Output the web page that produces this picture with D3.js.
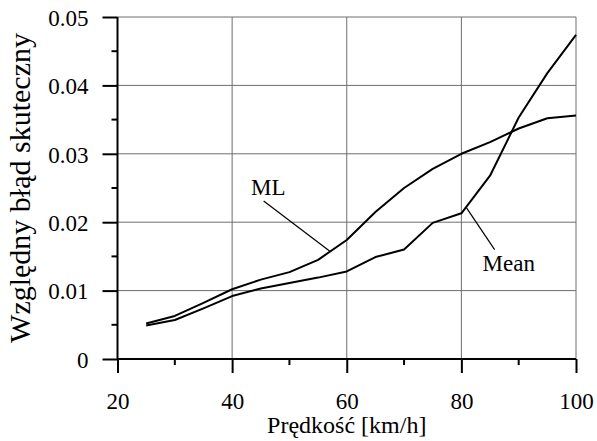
<!DOCTYPE html>
<html>
<head>
<meta charset="utf-8">
<script src="https://cdn.jsdelivr.net/npm/d3@7"></script>
<style>
  html, body { margin: 0; padding: 0; background: #fff; }
  svg { display: block; }
  svg text { font-family: 'Liberation Serif', 'DejaVu Serif', serif; }
</style>
</head>
<body>
<div id="chart"></div>
<script>
// Relative RMS error vs. speed, two estimators (ML / Mean)

const speeds = [25, 30, 35, 40, 45, 50, 55, 60, 65, 70, 75, 80, 85, 90, 95, 100];
const mlValues = [0.0052, 0.0063, 0.0082, 0.0102, 0.0116, 0.0127, 0.0145, 0.0174, 0.0215, 0.0250, 0.0278, 0.0300, 0.0317, 0.0337, 0.0352, 0.0356];
const meanValues = [0.0049, 0.0057, 0.0074, 0.0092, 0.0103, 0.0111, 0.0119, 0.0128, 0.0149, 0.0160, 0.0199, 0.0213, 0.0268, 0.0353, 0.0418, 0.0474];

const xTicks = [20, 40, 60, 80, 100];
const xMinorTicks = [30, 50, 70, 90];
const yTicks = [0, 0.01, 0.02, 0.03, 0.04, 0.05];
const yMinorTicks = [0.005, 0.015, 0.025, 0.035, 0.045];

// callouts: label anchor + leader line, in data units
const callouts = [
  { name: 'ML',   label: [43.3, 0.0240], from: [45.5, 0.0231], to: [57.0, 0.0158] },
  { name: 'Mean', label: [83.7, 0.0128], from: [85.8, 0.0160], to: [80.9, 0.0221] },
];

const W = 597, H = 441;
const margin = { top: 17, right: 21, bottom: 82, left: 117.5 };

const svg = d3.select('#chart').append('svg')
  .attr('width', W).attr('height', H);

const x = d3.scaleLinear().domain([20, 100]).range([margin.left, W - margin.right]);
const y = d3.scaleLinear().domain([0, 0.05]).range([H - margin.bottom, margin.top]);

// grid
const grid = svg.append('g').attr('stroke', '#6e6e6e').attr('stroke-width', 1);
xTicks.filter(t => t > 20).forEach(t => {
  grid.append('line')
    .attr('x1', x(t)).attr('x2', x(t))
    .attr('y1', y(0)).attr('y2', y(0.05));
});
yTicks.filter(t => t > 0).forEach(t => {
  grid.append('line')
    .attr('x1', x(20)).attr('x2', x(100))
    .attr('y1', y(t)).attr('y2', y(t));
});

// axes
const xAxis = svg.append('g')
  .attr('transform', `translate(0,${y(0)})`)
  .call(d3.axisBottom(x).tickValues(xTicks).tickSize(14).tickPadding(36).tickFormat(d3.format('d')));
xAxis.append('g').selectAll('line').data(xMinorTicks).join('line')
  .attr('x1', d => x(d)).attr('x2', d => x(d))
  .attr('y1', 0).attr('y2', 6);

const yAxis = svg.append('g')
  .attr('transform', `translate(${x(20)},0)`)
  .call(d3.axisLeft(y).tickValues(yTicks).tickSize(15).tickPadding(14)
    .tickFormat(d => d === 0 ? '0' : d3.format('.2f')(d)));
yAxis.append('g').selectAll('line').data(yMinorTicks).join('line')
  .attr('x1', 0).attr('x2', -6)
  .attr('y1', d => y(d)).attr('y2', d => y(d));

[xAxis, yAxis].forEach(a => {
  a.attr('font-family', null).attr('font-size', null);
  a.select('.domain').attr('stroke', '#000').attr('stroke-width', 2)
    .attr('d', a === xAxis ? `M${x(20)},0H${x(100)}` : `M0,${y(0)}V${y(0.05)}`);
  a.selectAll('line').attr('stroke', '#000').attr('stroke-width', 2);
  a.selectAll('text')
    .attr('fill', '#000')
    .attr('font-size', 23);
});
yAxis.selectAll('.tick text').attr('dy', '0.36em');
xAxis.selectAll('.tick text').attr('dy', '0');

// curves
const line = d3.line().x(d => x(d[0])).y(d => y(d[1]));
[mlValues, meanValues].forEach(vals => {
  svg.append('path')
    .datum(speeds.map((s, i) => [s, vals[i]]))
    .attr('d', line)
    .attr('fill', 'none')
    .attr('stroke', '#000')
    .attr('stroke-width', 2)
    .attr('stroke-linejoin', 'round');
});

// callouts
callouts.forEach(c => {
  svg.append('line')
    .attr('x1', x(c.from[0])).attr('y1', y(c.from[1]))
    .attr('x2', x(c.to[0])).attr('y2', y(c.to[1]))
    .attr('stroke', '#000').attr('stroke-width', 1.2);
  svg.append('text')
    .attr('x', x(c.label[0])).attr('y', y(c.label[1]))
    .attr('font-size', 23)
    .attr('fill', '#000')
    .text(c.name);
});

// axis titles
svg.append('text')
  .attr('x', (x(20) + x(100)) / 2).attr('y', 433)
  .attr('text-anchor', 'middle')
  .attr('font-size', 24)
  .text('Prędkość [km/h]');

svg.append('text')
  .attr('transform', `translate(30,${(y(0) + y(0.05)) / 2}) rotate(-90)`)
  .attr('text-anchor', 'middle')
  .attr('font-size', 30)
  .text('Względny błąd skuteczny');
</script>
</body>
</html>
